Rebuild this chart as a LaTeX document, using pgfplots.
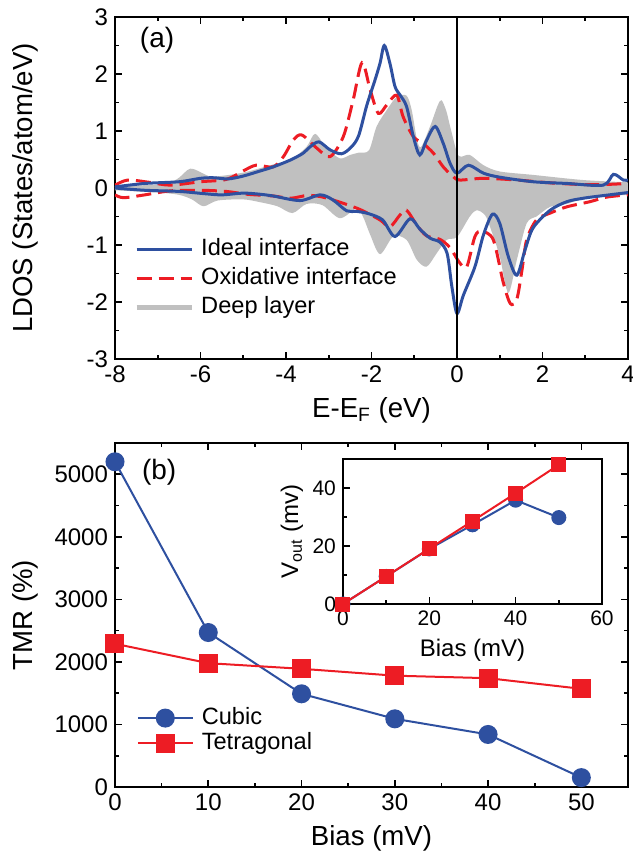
\documentclass[border=0pt]{standalone}
\usepackage{pgfplots}
\pgfplotsset{compat=1.18}
\usepgfplotslibrary{fillbetween}
\usepackage{fontspec}
\setmainfont{Liberation Sans}

\definecolor{ideal}{RGB}{46,80,160}
\definecolor{oxid}{RGB}{237,28,36}
\definecolor{deep}{RGB}{192,192,192}

\newcommand\labfont{\fontsize{13.8}{16}\selectfont}
\newcommand\insetlabfont{\fontsize{12}{14}\selectfont}
\newcommand\legfont{\fontsize{11.8}{14}\selectfont}

\pgfplotsset{
  panel/.style={
    scale only axis,
    anchor=south west,
    tick align=inside,
    axis line style={line width=1pt},
    every tick/.style={black, line width=0.8pt},
    major tick length=3.5pt,
    minor tick length=2pt,
    /pgf/number format/assume math mode=true,
    tick label style={font=\fontsize{12}{14}\selectfont},
    legend cell align=left,
  },
}

\begin{document}
\begin{tikzpicture}

% (a) LDOS
\begin{axis}[panel,
  at={(0pt,214pt)}, width=256.5pt, height=171pt,
  xmin=-8, xmax=4, ymin=-3, ymax=3,
  xtick={-8,-6,...,4}, minor x tick num=1,
  ytick={-3,-2,...,3}, minor y tick num=1,
  xlabel={E-E\textsubscript{F} (eV)},
  ylabel={LDOS (States/atom/eV)},
  every axis x label/.style={at={(axis description cs:0.5,-0.149)}, anchor=center, font=\labfont},
  every axis y label/.style={at={(axis description cs:-0.175,0.5)}, rotate=90, anchor=center, font=\labfont},
  legend style={draw=none, fill=none, at={(rel axis cs:0.025,0.236)}, anchor=west,
    font=\legfont,
    nodes={inner sep=0pt, text height=9pt, text depth=3pt, font=\legfont}, row sep=2.5pt},
  legend image code/.code={\draw[#1] (0pt,0pt) -- (27.5pt,0pt);},
  /tikz/every odd column/.append style={column sep=3.5pt},
]
% deep layer (grey area between spin-up and spin-down)
\addplot[draw=none, smooth, name path=gu, forget plot] coordinates {
(-8,0.04) (-7.0,0.06) (-6.56,0.15) (-6.24,0.34) (-5.9,0.24) (-5.7,0.2)
(-5.0,0.27) (-4.22,0.43) (-3.9,0.49) (-3.52,0.72) (-3.32,0.95) (-3.05,0.70)
(-2.74,0.52) (-2.5,0.58) (-2.3,0.62) (-2.06,0.66) (-1.88,1.08) (-1.64,1.37)
(-1.41,1.60) (-1.18,1.62) (-1.06,1.37) (-0.94,0.86) (-0.84,0.72) (-0.63,1.08)
(-0.45,1.45) (-0.36,1.54) (-0.25,1.35) (-0.16,1.08) (0.0,0.62) (0.1,0.55)
(0.3,0.58) (0.62,0.40) (1.0,0.29) (1.78,0.23) (2.95,0.14) (4.0,0.10)};
\addplot[draw=none, smooth, name path=gd, forget plot] coordinates {
(-8,-0.04) (-7.0,-0.08) (-6.5,-0.12) (-6.2,-0.2) (-5.93,-0.32) (-5.6,-0.22)
(-5.0,-0.2) (-4.6,-0.25) (-4.2,-0.32) (-3.85,-0.44) (-3.52,-0.28) (-3.15,-0.30)
(-2.74,-0.53) (-2.35,-0.36) (-2.2,-0.5) (-2.03,-0.82) (-1.8,-1.16) (-1.49,-0.85)
(-1.18,-0.91) (-0.94,-1.26) (-0.71,-1.38) (-0.48,-1.15) (-0.24,-0.91) (0.0,-0.86)
(0.3,-0.50) (0.46,-0.39) (0.66,-0.48) (0.8,-0.74) (1.0,-1.2) (1.2,-1.84)
(1.4,-1.26) (1.63,-0.62) (1.86,-0.50) (2.18,-0.33) (2.57,-0.28) (2.95,-0.18)
(3.35,-0.15) (4.0,-0.12)};
\addplot[deep, forget plot] fill between[of=gu and gd];

% oxidative interface
\addplot[oxid, line width=1.5pt, dash pattern=on 7.5pt off 3.5pt, smooth, forget plot] coordinates {
(-8,0.05) (-7.7,0.14) (-7.2,0.10) (-6.7,0.05) (-6.0,0.11) (-5.4,0.15)
(-5.0,0.30) (-4.7,0.40) (-4.3,0.37) (-4.06,0.55) (-3.83,0.84) (-3.63,0.93)
(-3.28,0.70) (-2.97,0.55) (-2.66,0.90) (-2.43,1.54) (-2.22,2.2) (-2.03,1.72)
(-1.84,1.31) (-1.64,1.46) (-1.41,1.63) (-1.26,1.25) (-1.02,0.90) (-0.79,0.78)
(-0.55,0.61) (-0.32,0.37) (-0.09,0.20) (0.07,0.14) (0.62,0.17) (1.4,0.14)
(2.18,0.09) (2.95,0.06) (3.42,0.06) (4.0,0.08)};
\addplot[oxid, line width=1.5pt, dash pattern=on 7.5pt off 3.5pt, smooth, forget plot] coordinates {
(-8,-0.12) (-7.8,-0.17) (-7.3,-0.12) (-6.7,-0.05) (-6.0,-0.04) (-5.4,-0.06)
(-4.9,-0.11) (-4.3,-0.14) (-3.9,-0.18) (-3.5,-0.13) (-3.2,-0.15) (-2.9,-0.21)
(-2.5,-0.31) (-2.2,-0.40) (-1.8,-0.56) (-1.57,-0.68) (-1.33,-0.47) (-1.18,-0.39)
(-0.94,-0.65) (-0.71,-0.84) (-0.4,-0.90) (-0.16,-1.05) (0.07,-1.32) (0.23,-1.38)
(0.42,-0.85) (0.58,-0.76) (0.85,-0.91) (1.08,-1.65) (1.25,-2.03) (1.4,-1.95)
(1.52,-1.44) (1.63,-0.91) (1.86,-0.56) (2.18,-0.44) (2.57,-0.33) (3.11,-0.24)
(3.5,-0.16) (4.0,-0.12)};

% ideal interface
\addplot[ideal, line width=1.5pt, smooth, forget plot] coordinates {
(-8,0.02) (-7.3,0.08) (-6.5,0.11) (-6.0,0.17) (-5.7,0.18) (-5.35,0.16)
(-5.0,0.21) (-4.6,0.30) (-4.3,0.37) (-3.9,0.49) (-3.6,0.61) (-3.44,0.72)
(-3.23,0.81) (-2.97,0.67) (-2.7,0.60) (-2.47,0.72) (-2.3,0.92) (-2.11,1.45)
(-1.92,1.89) (-1.8,2.19) (-1.70,2.50) (-1.57,2.19) (-1.45,1.78) (-1.33,1.63)
(-1.18,1.43) (-1.02,0.90) (-0.87,0.58) (-0.71,0.84) (-0.51,1.08) (-0.32,0.78)
(-0.16,0.43) (0.0,0.26) (0.27,0.40) (0.62,0.26) (1.0,0.19) (1.78,0.11)
(2.57,0.08) (3.42,0.05) (3.66,0.24) (3.89,0.14) (4.0,0.14)};
\addplot[ideal, line width=1.5pt, smooth, forget plot] coordinates {
(-8,0.0) (-7.3,-0.04) (-6.5,-0.06) (-5.9,-0.10) (-5.5,-0.12) (-5.0,-0.09)
(-4.6,-0.11) (-4.3,-0.14) (-3.67,-0.22) (-3.2,-0.12) (-2.9,-0.21) (-2.58,-0.40)
(-2.35,-0.41) (-2.07,-0.45) (-1.74,-0.56) (-1.45,-0.85) (-1.1,-0.54) (-0.87,-0.72)
(-0.63,-0.88) (-0.4,-0.95) (-0.23,-1.15) (-0.12,-1.73) (0.0,-2.2) (0.15,-1.88)
(0.42,-1.38) (0.62,-0.82) (0.83,-0.46) (1.0,-0.62) (1.2,-1.2) (1.4,-1.53)
(1.59,-1.09) (1.78,-0.70) (2.18,-0.39) (2.57,-0.24) (2.95,-0.18) (3.35,-0.14)
(4.0,-0.08)};

% Fermi level
\addplot[black, line width=1pt, forget plot] coordinates {(0,-3) (0,3)};

\addlegendimage{ideal, line width=1.5pt}
\addlegendentry{Ideal interface}
\addlegendimage{oxid, line width=1.5pt, dash pattern=on 7.5pt off 3.5pt}
\addlegendentry{Oxidative interface}
\addlegendimage{deep, line width=2.5pt}
\addlegendentry{Deep layer}

\node[font=\fontsize{14}{16}\selectfont] at (rel axis cs:0.082,0.933) {(a)};
\end{axis}

% (b) TMR
\begin{axis}[panel,
  at={(0pt,0pt)}, width=256.5pt, height=172pt,
  xmin=0, xmax=55, ymin=0, ymax=5500,
  xtick={0,10,...,50}, minor x tick num=1,
  ytick={0,1000,...,5000}, minor y tick num=1,
  scaled y ticks=false,
  /pgf/number format/set thousands separator={},
  xlabel={Bias (mV)},
  ylabel={TMR (\%)},
  every axis x label/.style={at={(axis description cs:0.5,-0.148)}, anchor=center, font=\labfont},
  every axis y label/.style={at={(axis description cs:-0.175,0.5)}, rotate=90, anchor=center, font=\labfont},
  legend style={draw=none, fill=none, at={(rel axis cs:0.03,0.164)}, anchor=west,
    font=\legfont,
    nodes={inner sep=0pt, text height=9pt, text depth=3pt, font=\legfont}, row sep=0.5pt},
  legend image code/.code={\draw[mark repeat=2,mark phase=2,#1] plot coordinates {(0pt,0pt) (13.75pt,0pt) (27.5pt,0pt)};},
  /tikz/every odd column/.append style={column sep=4pt},
]
\addplot[ideal, line width=1pt, mark=*, mark size=4.25pt, mark options={fill=ideal, draw=ideal}] coordinates {
(0,5200) (10,2470) (20,1490) (30,1090) (40,840) (50,150)};
\addlegendentry{Cubic}
\addplot[oxid, line width=1pt, mark=square*, mark size=4.25pt, mark options={fill=oxid, draw=oxid}] coordinates {
(0,2290) (10,1980) (20,1890) (30,1780) (40,1740) (50,1570)};
\addlegendentry{Tetragonal}
\node[font=\fontsize{14}{16}\selectfont] at (rel axis cs:0.086,0.916) {(b)};
\end{axis}

% inset
\begin{axis}[panel,
  at={(114pt,91.5pt)}, width=129.5pt, height=72.5pt,
  xmin=0, xmax=60, ymin=0, ymax=50,
  xtick={0,20,40,60}, minor x tick num=1,
  ytick={0,20,40}, minor y tick num=1,
  xtick pos=left, ytick pos=left,
  tick label style={font=\fontsize{10.5}{12}\selectfont},
  xlabel={Bias (mV)},
  ylabel={V\textsubscript{out} (mv)},
  every axis x label/.style={at={(axis description cs:0.5,-0.317)}, anchor=center, font=\insetlabfont},
  every axis y label/.style={at={(axis description cs:-0.197,0.5)}, rotate=90, anchor=center, font=\insetlabfont},
]
\addplot[ideal, line width=1pt, mark=*, mark size=3.25pt, mark options={fill=ideal, draw=ideal}] coordinates {
(0,0) (10,9.5) (20,19) (30,27.3) (40,35.8) (50,29.8)};
\addplot[oxid, line width=1pt, mark=square*, mark size=3.25pt, mark options={fill=oxid, draw=oxid}] coordinates {
(0,0) (10,9.5) (20,19.1) (30,28.6) (40,38.2) (50,48)};
\end{axis}

\pgfresetboundingbox
\path (-57.5pt,-38.5pt) rectangle (259pt,393.5pt);
\end{tikzpicture}
\end{document}
